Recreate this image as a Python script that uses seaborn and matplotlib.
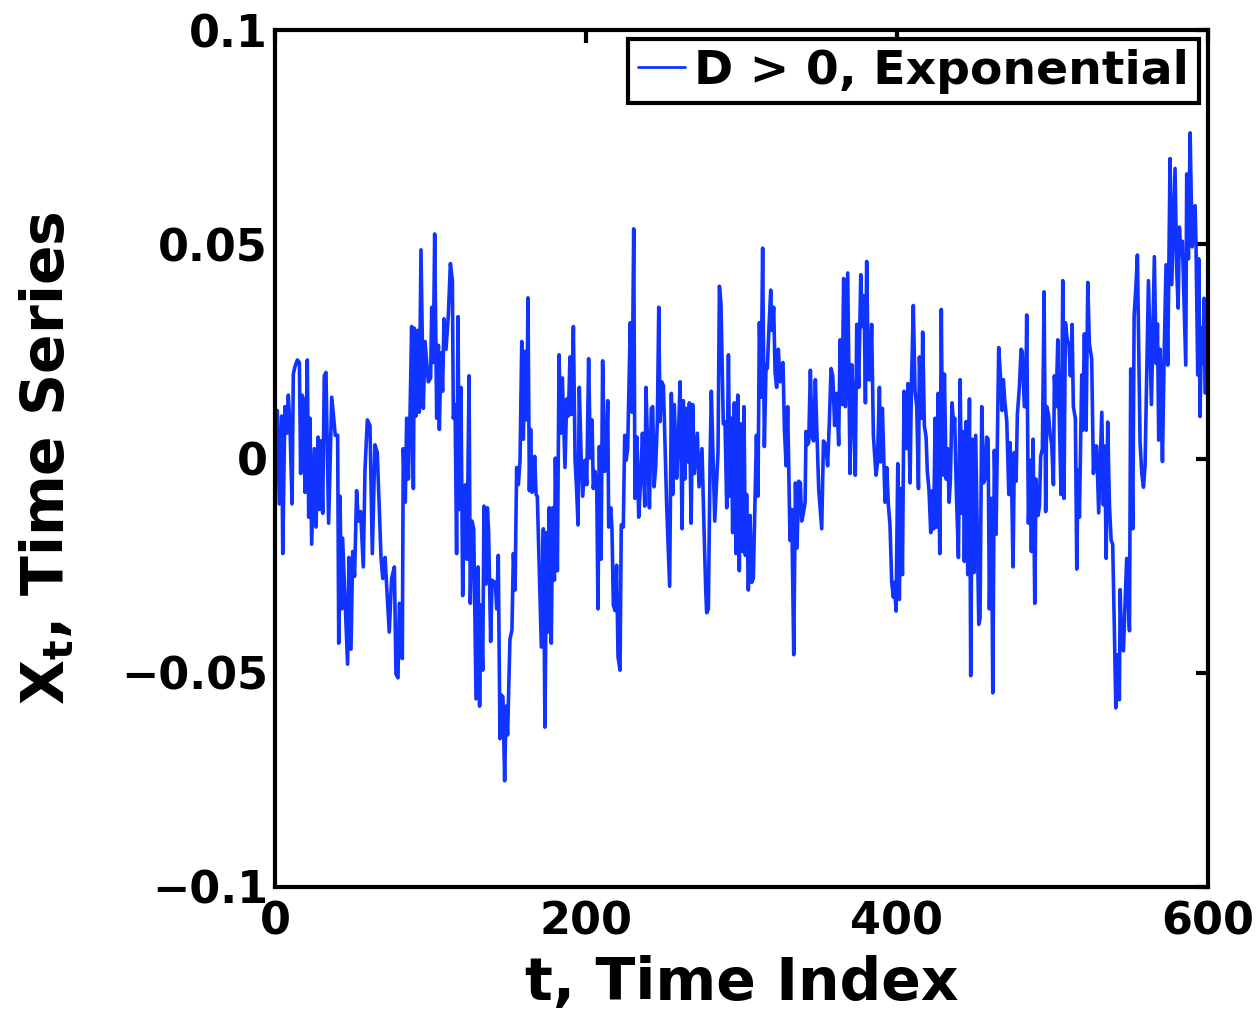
import numpy as np
import matplotlib
matplotlib.use("Agg")
import matplotlib.pyplot as plt
import seaborn as sns

# time index and series value (x 1e-3)
t_idx = [
    0, 1.5, 2.8, 4.3, 5.0, 6.4, 7.5, 8.6, 9.7, 11.0, 11.8, 12.9, 14.4, 15.7, 16.5, 17.4, 18.2, 19.3, 20.8, 21.7,
    22.5, 23.6, 25.3, 26.4, 27.7, 28.7, 29.6, 30.7, 31.7, 32.8, 34.5, 36.5, 38.8, 40.3, 41.0, 41.8, 42.9, 43.5,
    45.0, 46.7, 47.6, 48.9, 50.0, 51.2, 52.5, 53.6, 55.1, 56.8, 57.9, 59.4, 61.1, 62.6, 64.3, 65.8, 68.2, 69.3,
    70.8, 73.5, 75.0, 76.8, 77.8, 79.1, 80.0, 81.9, 82.5, 83.8, 84.7, 85.8, 86.8, 87.9, 89.0, 89.6, 90.7, 91.8,
    92.8, 93.9, 95.4, 96.5, 98.6, 100.1, 100.8, 101.8, 102.7, 104.0, 105.1, 105.7,
    106.8, 107.8, 108.7, 110.0, 111.5, 112.8, 114.1, 114.7, 115.8, 116.8, 117.7, 118.6, 119.6, 120.7, 122.0,
    122.6, 123.5, 124.8, 125.6, 126.7, 127.8, 129.3, 130.6, 131.6, 132.5, 133.6, 134.4, 135.7, 136.6, 137.4,
    138.7, 139.6, 140.9, 141.7, 142.6, 143.6, 144.7, 145.6, 146.6, 147.7, 148.6, 149.6, 151.1, 152.4, 153.3,
    154.4, 155.4, 156.5, 157.6, 158.7, 159.7, 161.0, 161.9, 162.7, 163.6, 164.4, 165.3, 166.2, 167.0, 167.9,
    168.7, 171.3, 172.6, 173.6, 174.7, 175.6, 176.4, 177.7, 178.6, 179.7, 180.3, 181.6, 182.7, 183.7, 184.8,
    186.5, 187.6, 188.7, 189.7, 190.6, 191.9, 193.0, 194.0, 194.9, 195.7, 196.8, 197.9, 199.4, 200.5, 201.7,
    202.8, 203.9, 204.7, 205.8, 206.9, 207.7, 208.6,
    209.7, 210.7, 212.0, 212.9, 214.0, 214.6, 215.9, 216.7, 217.6, 218.7, 219.7, 220.6, 221.9, 222.7, 224.0,
    224.9, 225.8, 226.8, 227.9, 228.5, 229.6, 230.7, 231.5, 232.8, 233.9, 235.2, 236.3, 237.8, 238.6, 239.5,
    240.8, 242.0, 242.9, 243.8, 244.8, 245.9, 246.8, 247.6, 248.7, 249.8, 251.9, 253.8, 254.9, 255.8, 256.8,
    258.3, 259.6, 260.5, 261.8, 262.6, 263.5, 264.3, 265.4, 266.5, 267.6, 268.6, 269.7, 271.6, 272.7, 274.6,
    275.9, 277.0, 277.6, 278.7, 279.8, 280.6, 281.9, 282.8, 284.9, 285.8, 286.8, 288.3, 289.4, 290.5, 291.6,
    292.6, 293.5, 294.3, 295.4, 296.5, 297.6, 298.6, 299.7, 300.8, 301.6, 302.5, 303.3, 304.4, 305.5, 306.6,
    307.6, 309.6, 310.6, 311.5,
    312.6, 313.6, 314.7, 315.8, 316.6, 317.7, 318.8, 319.6, 320.7, 321.6, 322.6, 323.7, 324.8, 325.9, 326.7,
    327.6, 328.7, 329.7, 331.2, 332.3, 333.6, 334.7, 335.7, 336.8, 337.9, 338.7, 339.8, 340.9, 341.5, 342.4,
    343.2, 344.3, 345.4, 346.4, 347.5, 348.4, 349.7, 351.6, 352.7, 354.2, 355.4, 356.5, 357.6, 358.7, 359.9,
    361.2, 362.5, 363.4, 364.7, 365.7, 366.8, 368.3, 369.8, 370.9, 371.9, 373.2, 374.1, 375.4, 376.7, 377.7,
    378.8, 379.7, 380.5, 381.6, 382.7, 383.7, 384.8, 386.5, 387.4, 388.7, 389.5, 390.6, 392.3, 393.4, 394.5,
    395.5, 396.6, 397.7, 398.3, 399.4, 400.5, 401.5, 402.4, 403.5, 404.5, 405.4, 406.2, 407.1, 408.4, 409.3,
    410.5, 411.6, 412.7, 413.8, 414.4,
    415.9, 416.5, 417.6, 418.7, 419.5, 420.6, 421.7, 422.8, 423.6, 424.5, 425.5, 426.4, 427.5, 428.5, 429.4,
    430.5, 431.6, 432.6, 433.5, 434.3, 435.4, 436.5, 437.1, 438.0, 439.5, 440.6, 441.6, 442.5, 443.3, 444.4,
    445.5, 446.6, 447.4, 448.5, 449.6, 450.6, 452.6, 453.4, 454.5, 455.6, 456.6, 457.7, 458.6, 459.4, 460.7,
    461.6, 462.6, 463.7, 465.4, 466.3, 467.6, 468.4, 469.3, 470.6, 471.9, 472.7, 473.8, 474.6, 475.5, 476.6,
    477.4, 478.7, 479.8, 480.6, 481.9, 482.8, 483.4, 484.5, 485.6, 486.4, 487.5, 488.6, 489.4, 490.7, 491.6,
    492.4, 493.5, 494.6, 495.6, 496.3, 497.4, 498.4, 499.5, 500.6, 501.2, 502.3, 503.4, 504.2, 505.5, 506.6,
    507.4, 508.3, 509.6, 510.6, 511.5, 512.6, 513.4, 514.7, 515.6, 516.4, 517.3,
    518.8, 519.4, 520.5, 521.6, 522.7, 523.7, 525.2, 526.3, 527.4, 528.4, 529.7, 531.7, 532.7, 533.6, 534.5,
    535.5, 536.6, 537.7, 538.7, 539.8, 540.7, 541.7, 543.0, 543.5, 544.5, 545.6, 546.7, 547.7, 549.5, 550.3,
    551.6, 552.5, 553.7, 554.6, 556.3, 557.4, 558.5, 559.5, 561.7, 563.6, 564.5, 565.5, 566.6, 567.5, 568.3,
    569.2, 570.7, 571.7, 573.0, 574.1, 574.8, 575.6, 576.7, 578.8, 579.9, 580.8, 581.6, 582.5, 583.5, 585.7,
    586.3, 587.4, 588.5, 589.8, 590.6, 591.7, 592.3, 593.4, 594.0, 594.9, 595.8, 596.6, 597.5, 598.1, 600.0,
]
x_milli = [
    0, 11.2, -10.6, 9.9, -22.2, 12.1, 5.9, 14.8, 6.8, -10.6, 19.7, 21.5, 23.0, 22.4, -3.5, 14.8, 13.9, -7.9, 23.0, -13.7,
    9.4, -20.0, 2.3, -16.0, 5.0, -11.9, 4.1, -12.8, 19.3, 20.1, -15.1, 14.3, 5.4, 5.4, -43.1, -8.8, -35.1, -18.6,
    -32.4, -48.0, -23.1, -44.5, -21.7, -27.5, -7.5, -14.6, -12.4, -25.3, -2.6, 9.0, 7.7, -22.2, 3.2, 1.4, -23.1, -28.0,
    -23.1, -40.5, -28.0, -25.3, -50.3, -51.2, -33.8, -46.7, 2.3, -10.2, 9.4, -4.8, 9.4, 30.8, -7.0, 30.4, 9.9, 29.9,
    10.8, 48.7, 11.7, 27.3, 17.9, 18.8, 35.3, 22.4, 52.4, 9.4, 26.4, 6.8,
    24.6, 15.7, 32.6, 25.5, 33.5, 45.5, 41.5, 9.4, 12.6, -22.2, 33.1, -11.9, 16.6, -32.0, -6.6,
    -6.1, -23.5, 19.3, -33.8, -14.6, -16.4, -56.1, -25.3, -57.8, -34.2, -49.4, -11.1, -29.3, -11.5, -17.3,
    -42.7, -28.4, -28.9, -28.9, -35.1, -22.6, -65.4, -55.2, -55.6, -75.2, -57.8, -64.5, -42.2, -40.0, -22.2,
    -30.7, -2.1, -6.1, -0.4, 27.3, 4.5, 25.0, 9.0, 37.5, -7.5, 6.8, -7.9, -6.6, 0.5, -8.4,
    -8.8, -44.0, -16.4, -62.7, -17.3, -40.5, -11.5, -43.1, -11.5, -28.4, 0.1, -26.2, 24.2, 5.9, 18.8,
    -2.1, 13.9, 9.9, 23.7, 10.3, 30.8, -0.4, -7.5, -15.5, 16.6, 1.4, -8.8, -0.4, -6.1, 23.3,
    0.1, 9.0, -7.0, -3.0, -5.7, -35.1, 2.8,
    -23.5, 22.8, -3.0, -2.6, 13.5, -16.0, -11.5, -16.4, -34.2, -35.5, -24.9, -46.3, -49.4, -15.5, -16.0,
    5.4, -0.4, 2.3, 21.9, 31.7, 10.8, 53.6, -9.3, 5.0, -13.7, -4.8, 5.9, -11.1, 16.6, 4.5,
    -11.5, 11.7, 12.1, -6.6, -2.1, 8.6, 35.3, 8.6, 17.9, 17.0, -11.1, -29.8, 15.2, -8.4, 12.6,
    -4.6, 6.8, 17.9, -16.4, 13.5, -4.8, 11.7, -0.8, 13.0, -15.1, 12.6, -3.5, 5.9, -6.6, 2.3,
    -16.4, -30.7, -36.0, -35.1, -0.4, 15.7, -2.1, -14.6, 1.4, 40.2, 36.2, 8.1, 8.6, -11.5, 24.2,
    -8.8, 9.4, -17.3, 13.0, -22.2, 14.8, -26.2, 8.1, -21.7, 12.1, -22.6, -8.4, -30.7, -13.3, -28.9,
    -28.0, 5.4, -8.8, 31.7,
    14.3, 49.1, 2.8, 21.9, 21.0, 30.8, 39.3, 29.9, 35.3, 20.1, 16.6, 25.5, 17.9, 21.9, 22.4,
    6.8, -1.7, 12.1, -19.1, -11.9, -45.8, -5.7, -20.9, -5.3, -5.7, -14.6, -12.8, -10.2, 6.3, 3.2,
    3.7, 20.6, 5.0, 4.1, 18.4, 7.2, -7.5, -16.4, 4.1, 3.2, -1.7, 8.6, 21.0, 19.3, 7.7,
    15.2, 3.2, 27.7, 12.6, 42.0, 12.1, 43.3, -3.5, 21.9, 13.5, -3.9, 31.3, 16.6, 42.9, 30.8,
    38.0, 13.0, 46.0, 18.4, 18.4, 31.3, 5.4, -3.9, -1.2, 16.6, -0.8, 11.7, -10.2, -2.1, -11.1,
    -15.5, -28.9, -32.4, -28.9, -35.6, -1.2, -32.9, -7.0, -27.1, 15.7, 3.2, 2.3, 17.5, -5.7, 17.5,
    35.7, 15.7, 12.1, -7.0, 23.7,
    9.4, 29.5, 7.7, 5.0, -3.0, -7.5, -17.3, -7.5, -16.4, 9.4, -16.0, 15.2, -22.2, 34.8, -3.9,
    19.7, -4.8, 2.3, -10.2, -5.3, 13.0, 7.2, 9.4, -5.7, -23.1, 18.4, -12.8, 6.3, -24.0, 8.6,
    -27.1, 13.9, -50.7, 4.5, -26.6, 5.4, -38.7, -37.3, 12.1, -5.7, -4.8, 5.0, 4.5, -35.1, -9.3,
    -54.7, 1.9, -17.7, 25.9, 20.6, 11.2, 18.4, 13.5, 8.6, -8.4, 3.7, -7.5, -25.3, 1.4, -5.3,
    10.3, 16.6, 25.5, 25.0, 12.1, 12.1, 33.5, -15.1, -0.4, -21.7, 4.5, -33.8, -4.8, -13.3, -11.1,
    0.5, 2.3, 38.9, -12.4, 12.1, 10.3, 5.9, 3.2, -6.1, 19.3, 12.1, 27.7, 12.1, -8.4, 41.5,
    -9.3, 31.7, 27.3, 26.8, 19.3, 31.3, 12.1, 9.4, -25.8, -2.6, -13.7,
    19.5, 6.6, 29.1, 6.6, 41.1, 26.8, 23.2, -3.5, 2.9, 2.9, -12.7, 10.8, -10.8, 2.9, -23.3,
    8.5, -10.8, -19.1, -20.0, -40.2, -58.2, -45.8, -56.3, -30.6, -43.9, -44.9, -33.8, -23.3, -40.2, 20.9,
    -16.4, 33.3, 40.6, 47.5, 3.9, -3.5, -6.7, -1.7, 41.5, 12.6, 28.7, 47.1, 22.2, 31.4, 4.3,
    25.5, -0.7, 22.2, 45.2, 21.8, 45.2, 70.0, 40.6, 67.7, 43.8, 35.1, 54.0, 47.5, 50.7, 21.8,
    66.4, 46.6, 76.0, 49.4, 57.2, 59.0, 49.4, 19.5, 46.6, 9.8, 30.5, 22.2, 37.4, 15.3, 16.0,
]
series_label = "D > 0, Exponential"
x_ticks = [0, 200, 400, 600]
y_ticks = [-0.1, -0.05, 0, 0.05, 0.1]
y_tick_labels = ["\u22120.1", "\u22120.05", "0", "0.05", "0.1"]

x_vals = np.array(x_milli) / 1000.0

sns.set_style("white")
plt.rcParams['font.family'] = ['DejaVu Sans']
plt.rcParams['mathtext.fontset'] = 'dejavusans'
plt.rcParams['text.color'] = 'black'
plt.rcParams['axes.labelcolor'] = 'black'
plt.rcParams['xtick.color'] = 'black'
plt.rcParams['ytick.color'] = 'black'

fig = plt.figure(figsize=(12.59, 10.18), dpi=100)
ax = fig.add_axes([0.2184, 0.1287, 0.7411, 0.8418])

sns.lineplot(x=t_idx, y=x_vals, ax=ax, color="#1133FF", linewidth=2.6,
             sort=False, estimator=None, label=series_label)

ax.set_xlim(0, 600)
ax.set_ylim(-0.1, 0.1)
ax.set_xticks(x_ticks)
ax.set_xticklabels([str(v) for v in x_ticks])
ax.set_yticks(y_ticks)
ax.set_yticklabels(y_tick_labels)

for lbl in ax.get_xticklabels() + ax.get_yticklabels():
    lbl.set_fontweight("bold")
    lbl.set_fontsize(32)
    lbl.set_color("black")

ax.tick_params(direction="in", length=9, width=3, top=True, right=True,
               colors="black")
ax.tick_params(axis="x", pad=10)
ax.tick_params(axis="y", pad=5)
for sp in ax.spines.values():
    sp.set_visible(True)
    sp.set_linewidth(3)
    sp.set_color("black")

ax.set_xlabel("t, Time Index", fontsize=42, fontweight="bold", labelpad=8, color="black")
ax.set_ylabel(r"$\mathbf{X_t}$, Time Series", fontsize=42, fontweight="bold", labelpad=32, color="black")

leg = ax.legend(loc="upper right", frameon=True, fancybox=False,
                handlelength=1.0, handletextpad=0.2, borderpad=0.2,
                borderaxespad=0.2, prop={"weight": "bold", "size": 34})
leg.get_frame().set_edgecolor("black")
leg.get_frame().set_linewidth(3)
leg.get_frame().set_alpha(1)
for txt in leg.get_texts():
    txt.set_color("black")
for line in leg.get_lines():
    line.set_linewidth(2)

fig.savefig("out.png", dpi=100)
